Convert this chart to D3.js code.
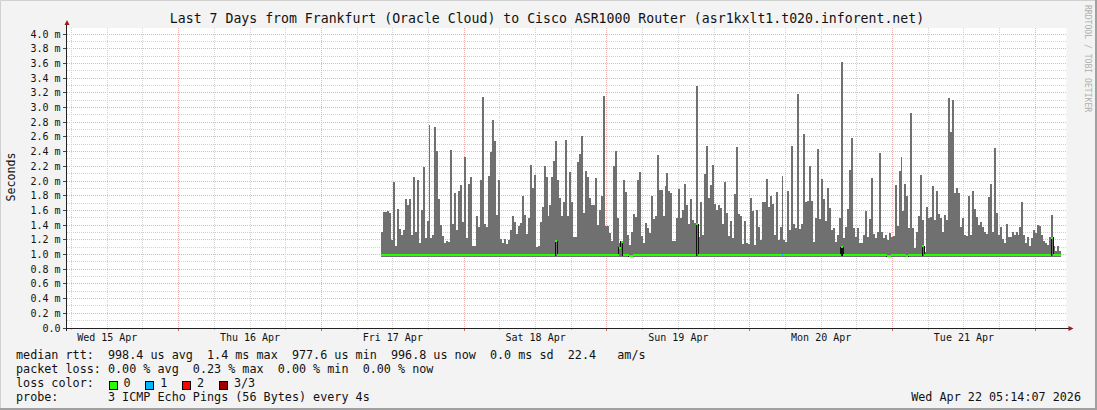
<!DOCTYPE html>
<html><head><meta charset="utf-8">
<script src="https://cdn.jsdelivr.net/npm/d3@7"></script>
<style>
html,body{margin:0;padding:0;background:#f3f3f3;}
svg{display:block;}
text{font-family:"DejaVu Sans Mono",monospace;}
</style></head><body>
<svg id="c" width="1097" height="410"></svg>
<script>
// ---------------- data ----------------
const title = "Last 7 Days from Frankfurt (Oracle Cloud) to Cisco ASR1000 Router (asr1kxlt1.t020.inforent.net)";
const yAxisTitle = "Seconds";
const watermark = "RRDTOOL / TOBI OETIKER";
const yTickValues = [0.0,0.2,0.4,0.6,0.8,1.0,1.2,1.4,1.6,1.8,2.0,2.2,2.4,2.6,2.8,3.0,3.2,3.4,3.6,3.8,4.0];
const yTickLabels = ["0.0","0.2 m","0.4 m","0.6 m","0.8 m","1.0 m","1.2 m","1.4 m","1.6 m","1.8 m","2.0 m","2.2 m","2.4 m","2.6 m","2.8 m","3.0 m","3.2 m","3.4 m","3.6 m","3.8 m","4.0 m"];
const dayLabels = ["Wed 15 Apr","Thu 16 Apr","Fri 17 Apr","Sat 18 Apr","Sun 19 Apr","Mon 20 Apr","Tue 21 Apr"];
const dayLabelDays = [15,16,17,18,19,20,21];
const graphStart = Date.UTC(2026,3,15,5,14,7);
const graphEnd   = Date.UTC(2026,3,22,5,14,7);
const dataStart  = Date.UTC(2026,3,17,10,0,0);
const stepMinutes = 20;
const minRtt = 0.96; // ms, floor of the smoke
// max ping rtt per step (ms)
const maxRtt = [
1.31,1.58,1.58,1.59,1.57,1.20,1.99,1.11,1.62,1.35,
1.26,1.34,1.76,1.68,1.76,1.27,2.06,1.31,2.02,1.15,
1.60,2.19,1.23,1.46,2.76,1.23,1.27,2.73,2.41,1.76,
1.40,1.25,1.15,1.18,1.17,2.42,1.42,1.84,1.33,1.87,
1.94,1.44,2.33,1.23,1.96,2.05,1.12,1.12,1.53,1.38,
2.02,3.14,1.42,1.37,2.07,2.39,2.83,2.54,1.54,2.02,
1.21,1.15,1.21,1.14,1.20,1.34,1.52,1.44,1.28,1.39,
1.43,1.80,1.54,1.28,1.49,2.22,1.91,2.08,1.10,1.11,
1.44,1.65,2.21,2.05,1.52,1.68,
2.05,2.27,2.55,2.02,1.77,1.53,1.72,2.56,1.52,2.12,
1.71,1.24,1.24,2.26,2.37,2.61,1.56,2.13,2.06,1.77,
1.67,1.68,2.04,1.40,1.60,1.79,3.15,1.39,1.39,1.29,
1.18,2.20,2.41,1.49,1.16,1.19,2.01,1.85,1.27,1.13,
1.31,1.55,1.51,2.01,2.12,1.25,1.15,1.43,1.36,1.29,
1.80,1.48,1.52,2.36,1.88,1.88,1.53,1.93,2.11,1.86,
1.83,1.18,1.18,1.49,1.89,1.49,1.61,1.96,1.68,1.42,
1.75,1.47,1.43,3.29,1.24,1.71,1.27,2.10,2.48,1.77,
1.95,2.22,1.69,1.61,1.67,1.63,
1.42,1.99,1.57,1.25,1.46,1.22,1.82,2.46,1.55,1.52,
1.14,1.45,1.16,1.14,1.77,1.59,1.13,1.61,1.38,1.20,
1.71,1.71,2.03,1.65,1.80,1.69,1.27,1.85,1.20,1.37,
2.07,1.20,1.17,1.86,1.33,2.48,1.41,1.36,3.18,1.35,
1.42,2.64,1.71,1.73,2.20,1.73,1.17,1.49,2.43,1.48,
2.03,1.76,1.46,1.90,1.63,1.33,1.36,1.17,1.27,1.49,
3.62,1.23,1.37,1.62,2.15,2.59,1.36,1.24,1.36,1.15,
1.15,1.27,1.59,1.24,1.48,2.04,1.28,1.23,1.30,2.38,
1.30,1.23,1.27,1.20,1.29,1.24,
1.25,1.95,1.39,2.13,2.33,1.59,1.96,1.79,1.36,2.93,
1.36,1.09,1.31,1.52,2.08,1.47,1.04,1.64,1.49,1.51,
1.93,1.47,1.86,1.55,1.50,1.31,1.54,1.47,3.13,2.66,
3.10,1.83,1.90,1.83,1.38,1.49,1.27,1.25,1.79,1.27,
1.86,1.62,1.51,1.40,1.44,1.38,1.31,1.28,1.78,1.96,
1.31,2.45,1.56,1.27,1.38,1.21,1.15,1.42,1.24,1.24,
1.30,1.27,1.31,1.27,1.38,1.71,1.27,1.16,1.24,1.11,
1.22,1.34,1.29,1.40,1.39,1.27,1.18,1.16,1.13,1.24,
1.54,1.11,1.05,1.12,1.05
];
// median rtt per step (ms)
const medianRtt = [
0.99,0.99,0.99,0.99,0.99,0.99,0.99,0.99,0.99,0.99,0.99,0.99,0.99,0.99,0.99,0.99,0.99,0.99,0.99,1.0,
0.99,0.99,1.0,0.99,1.0,0.99,0.99,0.99,0.99,0.99,0.99,0.99,0.99,0.99,1.0,0.99,0.99,0.99,1.0,0.99,
0.99,0.99,0.99,1.0,0.99,0.99,0.99,0.99,0.99,0.99,1.0,0.99,0.99,0.99,1.0,0.99,0.99,0.99,1.0,0.99,
0.99,0.99,0.99,0.99,1.0,0.99,0.99,0.99,0.99,0.99,0.99,0.99,0.99,0.99,0.99,0.99,1.0,0.99,0.99,0.99,
0.99,0.99,0.99,0.99,0.99,0.99,0.99,0.99,1.18,0.99,0.99,0.99,0.99,1.0,0.99,0.99,0.99,0.99,0.99,0.99,
1.0,0.99,0.99,0.99,0.99,0.99,0.99,0.99,0.99,0.99,1.0,0.99,0.99,0.99,0.99,0.99,0.99,0.99,0.99,0.99,
1.09,1.17,0.99,0.99,0.99,0.98,0.98,0.99,0.99,0.99,1.0,0.99,0.99,0.99,0.99,0.99,0.99,0.99,0.99,0.99,
1.0,0.99,0.99,0.99,0.99,0.99,0.99,1.0,0.99,0.99,0.99,0.99,0.99,0.99,0.99,0.99,0.99,0.99,0.99,1.41,
0.99,0.99,0.99,0.99,0.99,1.0,0.99,0.99,0.99,0.99,1.0,0.99,0.99,0.99,0.99,0.99,0.99,0.99,0.99,0.99,
1.0,0.99,0.99,0.99,0.99,0.99,0.99,0.99,0.99,0.99,1.0,0.99,0.99,0.99,0.99,0.99,0.99,0.99,0.99,0.99,
1.0,0.99,0.99,0.99,0.99,0.99,0.99,0.99,1.0,0.99,0.99,0.99,0.99,0.99,0.99,1.0,0.99,0.99,0.99,0.99,
0.99,0.99,1.0,0.99,0.99,0.99,0.99,0.99,0.99,0.99,0.99,0.99,1.10,0.99,0.99,0.99,0.99,0.99,0.99,0.99,
1.0,0.99,0.99,0.99,0.99,0.99,0.99,0.99,0.99,0.99,1.0,0.99,0.99,0.99,0.99,0.98,0.98,0.99,0.99,0.99,
0.99,0.99,1.0,0.99,0.99,0.98,0.99,0.99,0.99,0.99,0.99,0.99,0.99,1.11,0.99,0.99,0.99,0.99,0.99,0.99,
1.0,0.99,0.99,0.99,0.99,0.99,0.99,0.99,0.99,0.99,1.0,0.99,0.99,0.99,0.99,0.99,0.99,0.99,0.99,0.99,
1.0,0.99,0.99,0.99,0.99,0.99,0.99,0.99,0.99,0.99,1.0,0.99,0.99,0.99,0.99,0.99,0.99,0.99,0.99,0.99,
1.0,0.99,0.99,0.99,0.99,0.99,0.99,0.99,0.99,0.99,1.0,0.99,0.99,0.99,0.99,1.0,0.99,0.99,1.23,0.99,
0.99,0.99,0.99
];
const lossSteps = [202]; // steps with 1 of 3 pings lost
const lossColors = ["#26ff00","#00b8ff","#ff0000","#a00000"];
const lossLabels = ["0","1","2","3/3"];
const legendLines = [
  "median rtt:  998.4 us avg  1.4 ms max  977.6 us min  996.8 us now  0.0 ms sd  22.4   am/s",
  "packet loss: 0.00 % avg  0.23 % max  0.00 % min  0.00 % now",
  "loss color:",
  "probe:       3 ICMP Echo Pings (56 Bytes) every 4s"
];
const timestamp = "Wed Apr 22 05:14:07 2026";

// ---------------- drawing ----------------
const W = 1097, H = 410;
const svg = d3.select("#c");
const P = {left:67, right:1066.5, top:28, bottom:328};
const x = d3.scaleUtc().domain([graphStart, graphEnd]).range([P.left, P.right]);
const y = d3.scaleLinear().domain([0, 4]).range([328, 34]);
const cp = v => Math.floor(v) + 0.5;

// canvas + frame
svg.append("rect").attr("width",W).attr("height",H).attr("fill","#f3f3f3");
svg.append("path").attr("d",`M0.5,${H} V0.5 H${W}`).attr("fill","none").attr("stroke","#d0d0d0");
svg.append("path").attr("d",`M0,${H-1} H${W-1} V0`).attr("fill","none").attr("stroke","#a0a0a0").attr("stroke-width",2);

// plot area
svg.append("rect").attr("x",P.left).attr("y",P.top).attr("width",P.right-P.left).attr("height",P.bottom-P.top).attr("fill","#ffffff");

const grid = svg.append("g").attr("shape-rendering","crispEdges").attr("fill","none");
// horizontal grid: minor every 0.1, major every 0.2
const minorY = d3.range(1, 41).map(i => i/10).filter((v,i) => i % 2 === 0);
minorY.forEach(v => {
  grid.append("line").attr("x1",P.left).attr("x2",P.right).attr("y1",cp(y(v))).attr("y2",cp(y(v)))
    .attr("stroke","#d2d2d2").attr("stroke-dasharray","1,1");
});
yTickValues.filter(v => v > 0).forEach(v => {
  grid.append("line").attr("x1",P.left).attr("x2",P.right).attr("y1",cp(y(v))).attr("y2",cp(y(v)))
    .attr("stroke","#efb0b0").attr("stroke-dasharray","1,1");
});
// vertical grid
const sixH = d3.utcHour.every(6).range(new Date(graphStart), new Date(graphEnd)).filter(d => d.getUTCHours() !== 0);
sixH.forEach(d => {
  const xx = cp(x(d));
  grid.append("line").attr("x1",xx).attr("x2",xx).attr("y1",P.top).attr("y2",P.bottom).attr("stroke","#d2d2d2").attr("stroke-dasharray","1,1");
  grid.append("line").attr("x1",xx).attr("x2",xx).attr("y1",P.bottom).attr("y2",P.bottom+2).attr("stroke","#bdbdbd");
});
const days = d3.utcDay.range(new Date(graphStart), new Date(graphEnd));
days.forEach(d => {
  const xx = cp(x(d));
  grid.append("line").attr("x1",xx).attr("x2",xx).attr("y1",P.top).attr("y2",P.bottom).attr("stroke","#efb0b0").attr("stroke-dasharray","1,1");
  grid.append("line").attr("x1",xx).attr("x2",xx).attr("y1",P.bottom).attr("y2",P.bottom+3).attr("stroke","#e06060");
});

// data
const stepMs = stepMinutes * 60000;
const pts = maxRtt.map((v,i) => ({t: dataStart + i*stepMs, max: v, med: medianRtt[i], i}));
const tEnd = dataStart + maxRtt.length*stepMs;
const ptsExt = pts.concat([{t: tEnd, max: pts[pts.length-1].max, med: pts[pts.length-1].med}]);

const data = svg.append("g");
data.append("path").datum(ptsExt)
  .attr("d", d3.area().curve(d3.curveStepAfter).x(d => x(d.t)).y0(y(minRtt)).y1(d => y(d.max)))
  .attr("fill","#707070").attr("shape-rendering","crispEdges");

// median: dark connectors, loss-coloured steps
data.append("path").datum(ptsExt)
  .attr("d", d3.line().curve(d3.curveStepAfter).x(d => x(d.t)).y(d => y(d.med)))
  .attr("fill","none").attr("stroke","#111").attr("stroke-width",1.2).attr("shape-rendering","crispEdges");
data.selectAll("path.med").data(pts).join("path").attr("class","med")
  .attr("d", d => `M${x(d.t)},${y(d.med)}H${x(d.t + stepMs)}`)
  .attr("fill","none")
  .attr("stroke", d => lossSteps.includes(d.i) ? lossColors[1] : lossColors[0])
  .attr("stroke-width",2).attr("shape-rendering","crispEdges");

// axes
const ax = svg.append("g").attr("shape-rendering","crispEdges");
ax.append("line").attr("x1",cp(P.left-1)).attr("x2",cp(P.left-1)).attr("y1",P.top-4).attr("y2",P.bottom+3).attr("stroke","#222");
ax.append("line").attr("x1",P.left-3).attr("x2",P.right+4).attr("y1",cp(P.bottom)).attr("y2",cp(P.bottom)).attr("stroke","#222");
yTickValues.forEach(v => {
  ax.append("line").attr("x1",P.left-4).attr("x2",P.left-1).attr("y1",cp(y(v))).attr("y2",cp(y(v))).attr("stroke","#444");
});
svg.append("path").attr("d",`M${P.left-2.5},${P.top-3} L${P.left+2.5},${P.top-3} L${P.left},${P.top-8} Z`).attr("fill","#9b1b1b");
svg.append("path").attr("d",`M${P.right+2},${P.bottom-2} L${P.right+2},${P.bottom+3} L${P.right+7},${P.bottom+0.5} Z`).attr("fill","#9b1b1b");

// y labels
svg.append("g").selectAll("text").data(yTickValues).join("text")
  .attr("x", 60.5).attr("y", v => cp(y(v)) + 3.6).attr("text-anchor","end")
  .attr("font-size","10px").attr("fill","#111").text((v,i) => yTickLabels[i]);
// x labels at noon
svg.append("g").selectAll("text").data(dayLabelDays).join("text")
  .attr("x", d => x(Date.UTC(2026,3,d,12,0,0))).attr("y", 341).attr("text-anchor","middle")
  .attr("font-size","10px").attr("fill","#111").text((d,i) => dayLabels[i]);

// title
svg.append("text").attr("x",547).attr("y",23).attr("text-anchor","middle").attr("font-size","13.2px").attr("fill","#111").text(title);
svg.append("text").attr("transform","translate(15,177) rotate(-90)").attr("text-anchor","middle").attr("font-size","11.6px").attr("fill","#111").text(yAxisTitle);
svg.append("text").attr("transform","translate(1084.5,5) rotate(90)").attr("text-anchor","start").attr("font-size","8.1px").attr("fill","#b0b0b0").text(watermark);

// legend
const lg = svg.append("g").attr("font-size","11.75px").attr("fill","#111");
const legY = [358.5, 372.5, 386.5, 400.5];
legendLines.forEach((s,i) => {
  lg.append("text").attr("x",16).attr("y",legY[i]).attr("xml:space","preserve").style("white-space","pre").text(s);
});
lossColors.forEach((c,i) => {
  const bx = 108.5 + i*36.8;
  lg.append("rect").attr("x",Math.round(bx)+0.5).attr("y",381.5).attr("width",8).attr("height",8).attr("fill",c).attr("stroke","#000").attr("shape-rendering","crispEdges");
  lg.append("text").attr("x",bx+15).attr("y",legY[2]).text(lossLabels[i]);
});
lg.append("text").attr("x",1081).attr("y",legY[3]).attr("text-anchor","end").text(timestamp);
</script>
</body></html>
